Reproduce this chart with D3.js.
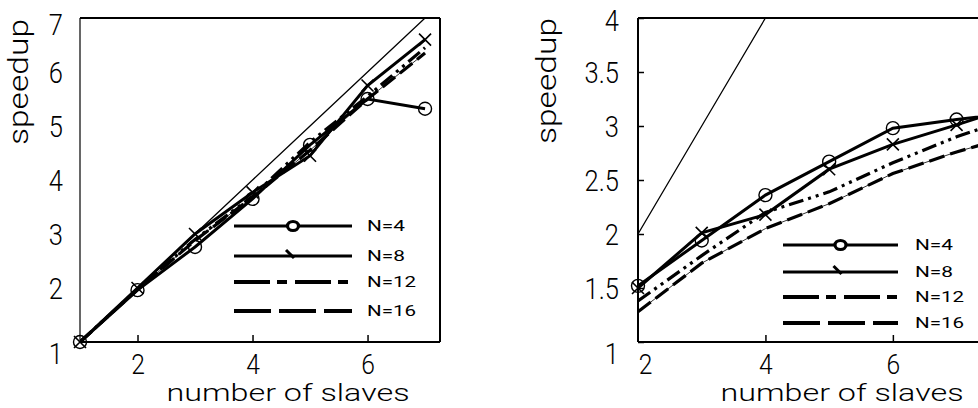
<!DOCTYPE html>
<html><head><meta charset="utf-8">
<script src="https://cdn.jsdelivr.net/npm/d3@7"></script>
<style>
html,body{margin:0;padding:0;background:#fff;}
svg{display:block;}
text{font-family:"Roboto","Liberation Sans",sans-serif;}
</style></head>
<body>
<script>
// ---------- data ----------
const seriesNames = ["N=4", "N=8", "N=12", "N=16"];

const leftX   = [1, 2, 3, 4, 5, 6, 7];
const leftIdeal = [1, 2, 3, 4, 5, 6, 7];
const leftN4  = [1.0, 1.96, 2.76, 3.65, 4.65, 5.5, 5.32];
const leftN8  = [1.0, 2.0, 3.0, 3.77, 4.45, 5.75, 6.6];
const leftN12 = [1.0, 1.98, 2.9, 3.7, 4.7, 5.55, 6.45];
const leftN16 = [1.0, 1.97, 2.88, 3.68, 4.55, 5.5, 6.35];
const leftXTicks = [2, 4, 6];
const leftYTicks = [1, 2, 3, 4, 5, 6, 7];

const rightX   = [2, 3, 4, 5, 6, 7, 8];
const rightIdeal = [2, 3, 4, 5, 6, 7, 8];
const rightN4  = [1.52, 1.94, 2.36, 2.67, 2.98, 3.06, 3.13];
const rightN8  = [1.5, 2.01, 2.18, 2.6, 2.83, 3.01, 3.2];
const rightN12 = [1.38, 1.8, 2.2, 2.39, 2.66, 2.9, 3.1];
const rightN16 = [1.28, 1.73, 2.05, 2.28, 2.56, 2.76, 2.93];
const rightXTicks = [2, 4, 6];
const rightYTicks = [1, 1.5, 2, 2.5, 3, 3.5, 4];
const rightYTickLabels = ["1", "1.5", "2", "2.5", "3", "3.5", "4"];

const xTitle = "number of slaves";
const yTitle = "speedup";

// ---------- drawing ----------
const W = 978, H = 408;
const svg = d3.select("body").append("svg").attr("width", W).attr("height", H);

function squish(sel, f) {
  sel.each(function () {
    const w = this.getComputedTextLength();
    d3.select(this).attr("textLength", w * f).attr("lengthAdjust", "spacingAndGlyphs");
  });
}

function panel(cfg, idx) {
  const g = svg.append("g");
  const x = d3.scaleLinear().domain(cfg.xDomain).range(cfg.xRange);
  const y = d3.scaleLinear().domain(cfg.yDomain).range([342, 18]);
  const [x0, x1] = cfg.xRange;

  const clipId = "clip" + idx;
  svg.append("clipPath").attr("id", clipId).append("rect")
    .attr("x", x0).attr("y", 18).attr("width", x1 - x0).attr("height", 324);

  // frame
  g.append("line").attr("x1", x0).attr("x2", x1).attr("y1", 18).attr("y2", 18)
    .attr("stroke", "#000").attr("stroke-width", 2);
  g.append("line").attr("x1", x1).attr("x2", x1).attr("y1", 18).attr("y2", 342)
    .attr("stroke", "#000").attr("stroke-width", 2);

  // x axis
  const xa = g.append("g").attr("transform", "translate(0,342)")
    .call(d3.axisBottom(x).tickValues(cfg.xTicks).tickSize(-7).tickFormat(d3.format("d")));
  xa.select(".domain").remove();
  xa.selectAll(".tick line").attr("stroke", "#000").attr("stroke-width", 1.5)
    .attr("display", d => d === cfg.xDomain[0] ? "none" : null);
  xa.selectAll(".tick text").attr("y", 22).attr("dy", "0.36em")
    .attr("dx", d => (d === cfg.xDomain[0] ? cfg.firstXShift : 0))
    .attr("font-size", 28).attr("font-weight", 300).attr("fill", "#000")
    .attr("font-family", "Roboto, sans-serif");
  g.append("line").attr("x1", x0).attr("x2", x1).attr("y1", 342).attr("y2", 342)
    .attr("stroke", "#000").attr("stroke-width", 2);

  // y axis
  const ya = g.append("g").attr("transform", `translate(${x0},0)`)
    .call(d3.axisLeft(y).tickValues(cfg.yTicks).tickSize(cfg.yTickIn ? -6 : 0)
      .tickPadding(cfg.yPad).tickFormat((d, i) => cfg.yLabels[i]));
  ya.select(".domain").remove();
  ya.selectAll(".tick line").attr("stroke", "#000").attr("stroke-width", 1.5);
  ya.selectAll(".tick text")
    .attr("x", -cfg.yPad)
    .attr("dy", d => (d === cfg.yDomain[0] ? 11 : d === cfg.yDomain[1] ? cfg.topShift : 0) + 10.5)
    .attr("font-size", 30).attr("font-weight", 300).attr("fill", "#000")
    .attr("font-family", "Roboto, sans-serif");
  g.append("line").attr("x1", x0).attr("x2", x0).attr("y1", 18).attr("y2", 342)
    .attr("stroke", "#000").attr("stroke-width", cfg.leftW);
  squish(xa.selectAll(".tick text"), 0.88);
  squish(ya.selectAll(".tick text"), 0.85);

  // titles
  g.append("text").attr("x", cfg.xTitleX).attr("y", 401).attr("text-anchor", "middle")
    .attr("font-size", 24).attr("font-weight", 300).text(xTitle)
    .attr("textLength", 243).attr("lengthAdjust", "spacingAndGlyphs");
  g.append("text").attr("transform", `translate(${cfg.yTitleX},${cfg.yTitleY}) rotate(-90)`)
    .attr("text-anchor", "middle").attr("dy", "0.3em")
    .attr("font-size", 27).attr("font-weight", 300).text(yTitle)
    .attr("textLength", 126).attr("lengthAdjust", "spacingAndGlyphs");

  // lines
  const plot = g.append("g").attr("clip-path", `url(#${clipId})`);
  const line = d3.line().x(d => x(d[0])).y(d => y(d[1]));
  const zip = (xs, ys) => xs.map((v, i) => [v, ys[i]]);

  plot.append("path").datum(zip(cfg.xs, cfg.ideal)).attr("d", line)
    .attr("fill", "none").attr("stroke", "#000").attr("stroke-width", 1.3);
  plot.append("path").datum(zip(cfg.xs, cfg.n16)).attr("d", line)
    .attr("fill", "none").attr("stroke", "#000").attr("stroke-width", 0.8);
  plot.append("path").datum(zip(cfg.xs, cfg.n16)).attr("d", line)
    .attr("fill", "none").attr("stroke", "#000").attr("stroke-width", 3.2)
    .attr("stroke-dasharray", "16,6");
  plot.append("path").datum(zip(cfg.xs, cfg.n12)).attr("d", line)
    .attr("fill", "none").attr("stroke", "#000").attr("stroke-width", 3.2)
    .attr("stroke-dasharray", "15,5,3,5,3,5");
  plot.append("path").datum(zip(cfg.xs, cfg.n8)).attr("d", line)
    .attr("fill", "none").attr("stroke", "#000").attr("stroke-width", 3);
  plot.append("path").datum(zip(cfg.xs, cfg.n4)).attr("d", line)
    .attr("fill", "none").attr("stroke", "#000").attr("stroke-width", 3);

  // markers (not clipped, so the ones on the axis show in full)
  const marks = g.append("g");
  marks.selectAll("circle.m4").data(zip(cfg.xs, cfg.n4)).join("circle").attr("class", "m4")
    .attr("cx", d => x(d[0])).attr("cy", d => y(d[1])).attr("r", 6.5)
    .attr("fill", "none").attr("stroke", "#000").attr("stroke-width", 1.4);
  const s = 6;
  marks.selectAll("path.m8").data(zip(cfg.xs, cfg.n8)).join("path").attr("class", "m8")
    .attr("d", d => {
      const cx = x(d[0]), cy = y(d[1]);
      return `M${cx - s},${cy - s}L${cx + s},${cy + s}M${cx - s},${cy + s}L${cx + s},${cy - s}`;
    })
    .attr("fill", "none").attr("stroke", "#000").attr("stroke-width", 1.6);

  // legend
  const lg = g.append("g");
  const dashes = [null, null, "36,7,10,8", "37,8"];
  const [lx0, lx1] = cfg.legLine;
  const mid = (lx0 + lx1) / 2;
  seriesNames.forEach((name, i) => {
    const ly = cfg.legY[i];
    lg.append("line").attr("x1", lx0).attr("x2", lx1).attr("y1", ly).attr("y2", ly)
      .attr("stroke", "#000").attr("stroke-width", i < 2 ? 3.2 : 4)
      .attr("stroke-dasharray", dashes[i]);
    if (i === 0) {
      lg.append("ellipse").attr("cx", mid).attr("cy", ly).attr("rx", 5.5).attr("ry", 4.5)
        .attr("fill", "#fff").attr("stroke", "#000").attr("stroke-width", 3.2);
    }
    if (i === 1) {
      lg.append("path").attr("d", `M${mid - 7},${ly - 6}L${mid + 1},${ly + 2}`)
        .attr("stroke", "#000").attr("stroke-width", 3);
    }
    lg.append("text").attr("x", cfg.legTextX).attr("y", ly).attr("dy", "0.36em")
      .attr("font-size", 14).attr("font-weight", 400)
      .attr("font-family", "'DejaVu Sans', sans-serif")
      .attr("textLength", name.length === 3 ? 38 : 49).attr("lengthAdjust", "spacingAndGlyphs")
      .text(name);
  });
}

panel({
  xDomain: [1, 7.26], xRange: [80, 440], yDomain: [1, 7],
  xs: leftX, ideal: leftIdeal, n4: leftN4, n8: leftN8, n12: leftN12, n16: leftN16,
  xTicks: leftXTicks, yTicks: leftYTicks, yLabels: leftYTicks.map(String),
  yTickIn: false, yPad: 17, leftW: 1.2, topShift: 6, firstXShift: 0,
  xTitleX: 288, yTitleX: 20, yTitleY: 82,
  legLine: [234, 352], legTextX: 367, legY: [226, 256, 282, 311]
}, 0);

panel({
  xDomain: [2, 7.65], xRange: [638, 998], yDomain: [1, 4],
  xs: rightX, ideal: rightIdeal, n4: rightN4, n8: rightN8, n12: rightN12, n16: rightN16,
  xTicks: rightXTicks, yTicks: rightYTicks, yLabels: rightYTickLabels,
  yTickIn: true, yPad: 19, leftW: 2, topShift: 2, firstXShift: 7,
  xTitleX: 842, yTitleX: 548, yTitleY: 81,
  legLine: [783, 898], legTextX: 915, legY: [245, 272, 297, 323]
}, 1);
</script>
</body></html>
